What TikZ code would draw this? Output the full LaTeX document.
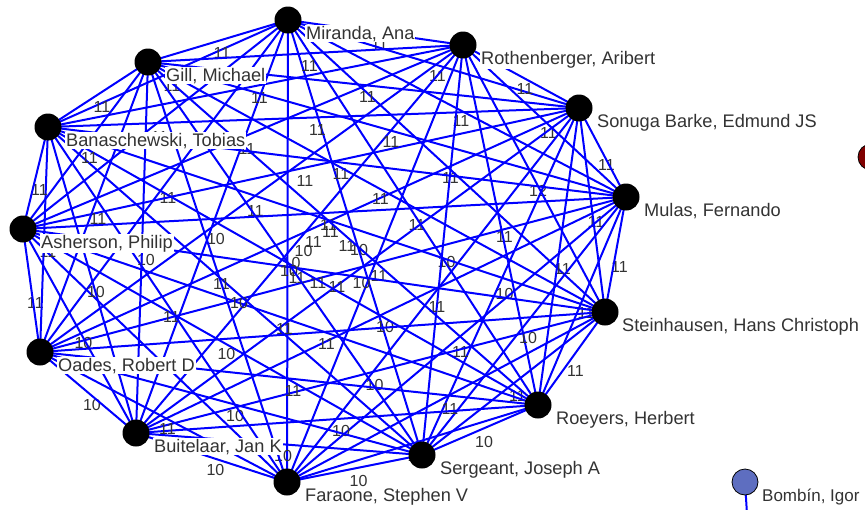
\documentclass[tikz,border=0pt]{standalone}
\usepackage{fontspec}
\setmainfont{Liberation Sans}
\usetikzlibrary{calc}

\definecolor{linkblue}{RGB}{0,0,255}
\definecolor{otherred}{RGB}{128,0,0}
\definecolor{otherblue}{RGB}{94,110,192}

\pgfdeclarelayer{background}
\pgfsetlayers{background,main}

\tikzset{
  author/.style={circle, fill=black, minimum size=27pt, inner sep=0pt},
  outsider/.style={circle, draw=black, line width=0.8pt, minimum size=26pt, inner sep=0pt},
  namelab/.style={anchor=base west, fill=white, inner sep=1pt, text=black!80,
    font=\fontsize{18.2}{20}\selectfont},
  elab/.style={midway, xshift=4pt, yshift=-12pt, inner sep=0pt, text=black!80,
    font=\fontsize{16}{18}\selectfont},
  coauth/.style={draw=linkblue, line width=2pt},
}

\begin{document}
\begin{tikzpicture}[x=1pt,y=-1pt]

\useasboundingbox (0,0) rectangle (865,509);

% Authors (clockwise from the top)
\node[author] (mir) at (288,20)  {};
\node[author] (rot) at (463,45)  {};
\node[author] (son) at (579,108) {};
\node[author] (mul) at (626,197) {};
\node[author] (ste) at (605,312) {};
\node[author] (roe) at (538,405) {};
\node[author] (ser) at (422,455) {};
\node[author] (far) at (287,482) {};
\node[author] (bui) at (136,433) {};
\node[author] (oad) at (40,352)  {};
\node[author] (ash) at (23,229)  {};
\node[author] (ban) at (48,127)  {};
\node[author] (gil) at (148,62)  {};

% Nodes of other parts of the network
\node[outsider, fill=otherred] (red) at (871,157) {};
\node[outsider, fill=otherblue] (bom) at (745,482) {};
\coordinate (bom-out) at (748,530);

% Edge weights first, lines go over them, all under the dots
\begin{pgfonlayer}{background}
\foreach \a/\b/\w in {
  mir/rot/11, mir/son/11, mir/mul/11, mir/ste/11, mir/roe/11, mir/ser/10,
  mir/far/10, mir/bui/10, mir/oad/11, mir/ash/11, mir/ban/11, mir/gil/11,
  rot/son/11, rot/mul/11, rot/ste/12, rot/roe/11, rot/ser/10, rot/far/11,
  rot/bui/10, rot/oad/11, rot/ash/11, rot/ban/11, rot/gil/11,
  son/mul/11, son/ste/11, son/roe/11, son/ser/10, son/far/11, son/bui/10,
  son/oad/11, son/ash/11, son/ban/11, son/gil/11,
  mul/ste/11, mul/roe/11, mul/ser/10, mul/far/11, mul/bui/10, mul/oad/11,
  mul/ash/11, mul/ban/11, mul/gil/11,
  ste/roe/11, ste/ser/11, ste/far/11, ste/bui/10, ste/oad/11, ste/ash/11,
  ste/ban/11, ste/gil/11,
  roe/ser/10, roe/far/10, roe/bui/10, roe/oad/11, roe/ash/11, roe/ban/11,
  roe/gil/11,
  ser/far/10, ser/bui/10, ser/oad/10, ser/ash/10, ser/ban/10, ser/gil/10,
  far/bui/10, far/oad/11, far/ash/11, far/ban/11, far/gil/11,
  bui/oad/10, bui/ash/10, bui/ban/10, bui/gil/10,
  oad/ash/11, oad/ban/11, oad/gil/11,
  ash/ban/11, ash/gil/11,
  ban/gil/11}
{
  \path (\a.center) -- (\b.center) node[elab] {\w};
  \draw[coauth] (\a.center) -- (\b.center);
}
\draw[coauth] (bom.center) -- (bom-out);
\end{pgfonlayer}

% Names on white boxes
\node[namelab] (mir-lab) at ($(mir)+(17,19)$) {Miranda, Ana};
\node[namelab] (rot-lab) at ($(rot)+(17,19)$) {Rothenberger, Aribert};
\node[namelab] (son-lab) at ($(son)+(17,19)$) {Sonuga Barke, Edmund JS};
\node[namelab] (mul-lab) at ($(mul)+(17,19)$) {Mulas, Fernando};
\node[namelab] (ste-lab) at ($(ste)+(16,19)$) {Steinhausen, Hans Christoph};
\node[namelab] (roe-lab) at ($(roe)+(17,19)$) {Roeyers, Herbert};
\node[namelab] (ser-lab) at ($(ser)+(17,19)$) {Sergeant, Joseph A};
\node[namelab] (far-lab) at ($(far)+(17,19)$) {Faraone, Stephen V};
\node[namelab] (bui-lab) at ($(bui)+(17,19)$) {Buitelaar, Jan K};
\node[namelab] (oad-lab) at ($(oad)+(17,19)$) {Oades, Robert D};
\node[namelab] (ash-lab) at ($(ash)+(17,19)$) {Asherson, Philip};
\node[namelab] (ban-lab) at ($(ban)+(17,19)$) {Banaschewski, Tobias};
\node[namelab] (gil-lab) at ($(gil)+(17,19)$) {Gill, Michael};
\node[namelab, font=\fontsize{17}{19}\selectfont] (bom-lab) at ($(bom)+(16,19)$) {Bombín, Igor};

\end{tikzpicture}
\end{document}
